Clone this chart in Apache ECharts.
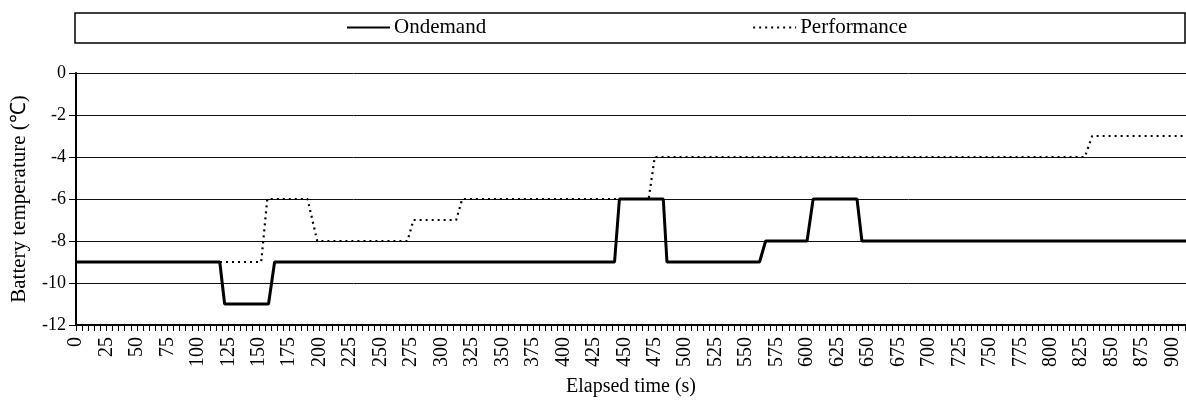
<!DOCTYPE html>
<html>
<head>
<meta charset="utf-8">
<script src="https://cdn.jsdelivr.net/npm/echarts@6/dist/echarts.min.js"></script>
<style>
html,body{margin:0;padding:0;background:#fff;}
#chart{width:1186px;height:400px;}
</style>
</head>
<body>
<div id="chart"></div>
<script>
// ---- data ----
const seriesNames = ['Ondemand', 'Performance'];
const ondemandTime = [0, 118, 122, 158, 163, 442, 446, 482, 485, 561, 566, 600, 605, 641, 645, 911];
const ondemandTemp = [-9, -9, -11, -11, -9, -9, -6, -6, -9, -9, -8, -8, -6, -6, -8, -8];
const perfTime = [0, 152, 157, 190, 198, 272, 277, 312, 317, 470, 475, 828, 834, 911];
const perfTemp = [-9, -9, -6, -6, -8, -8, -7, -7, -6, -6, -4, -4, -3, -3];
const xTickStep = 25;
const yTicks = [-12, -10, -8, -6, -4, -2, 0];

const pairs = (xs, ys) => xs.map((x, i) => [x, ys[i]]);
const FONT = 'Liberation Serif';

const chart = echarts.init(document.getElementById('chart'), null, {renderer: 'canvas'});
chart.setOption({
  animation: false,
  backgroundColor: '#fff',
  textStyle: {fontFamily: FONT, color: '#000'},
  graphic: [{
    type: 'rect',
    shape: {x: 75, y: 13, width: 1110, height: 30},
    style: {fill: '#fff', stroke: '#000', lineWidth: 1.5},
    z: -1
  }],
  legend: {
    data: seriesNames,
    left: 346,
    top: 17,
    padding: 0,
    itemGap: 266,
    itemWidth: 43,
    itemHeight: 14,
    itemStyle: {opacity: 0},
    textStyle: {fontFamily: FONT, fontSize: 21, color: '#000', padding: [0, 0, 0, -1]}
  },
  grid: {left: 76, right: 0, top: 73, bottom: 75, containLabel: false, outerBoundsMode: 'none'},
  xAxis: {
    type: 'value',
    min: 0,
    max: 911,
    interval: xTickStep,
    name: 'Elapsed time (s)',
    nameLocation: 'middle',
    nameGap: 52,
    nameTextStyle: {fontFamily: FONT, fontSize: 20, color: '#000'},
    axisLine: {show: true, onZero: false, lineStyle: {color: '#000', width: 2}},
    axisTick: {show: true, length: 6, lineStyle: {color: '#000', width: 1}},
    minorTick: {show: true, splitNumber: 5, length: 6, lineStyle: {color: '#000', width: 1}},
    splitLine: {show: false},
    axisLabel: {
      rotate: 90,
      margin: 12,
      fontFamily: FONT,
      fontSize: 20,
      color: '#000',
      showMaxLabel: false,
      formatter: v => (v % xTickStep === 0 ? String(v) : '')
    }
  },
  yAxis: {
    type: 'value',
    min: yTicks[0],
    max: yTicks[yTicks.length - 1],
    interval: 2,
    name: 'Battery temperature (℃)',
    nameLocation: 'middle',
    nameGap: 46,
    nameTextStyle: {fontFamily: FONT, fontSize: 21, color: '#000'},
    axisLine: {show: true, lineStyle: {color: '#000', width: 2}},
    axisTick: {show: true, length: 7, lineStyle: {color: '#000', width: 1}},
    splitLine: {show: true, lineStyle: {color: '#111', width: 1}},
    axisLabel: {margin: 10, fontFamily: FONT, fontSize: 18, color: '#000'}
  },
  series: [
    {
      name: 'Ondemand',
      type: 'line',
      data: pairs(ondemandTime, ondemandTemp),
      symbol: 'none',
      z: 3,
      lineStyle: {color: '#000', width: 3, type: 'solid'},
      itemStyle: {color: '#000'}
    },
    {
      name: 'Performance',
      type: 'line',
      data: pairs(perfTime, perfTemp),
      symbol: 'none',
      z: 2,
      lineStyle: {color: '#000', width: 2.2, type: [2, 4]},
      itemStyle: {color: '#000'}
    }
  ]
});
</script>
</body>
</html>
